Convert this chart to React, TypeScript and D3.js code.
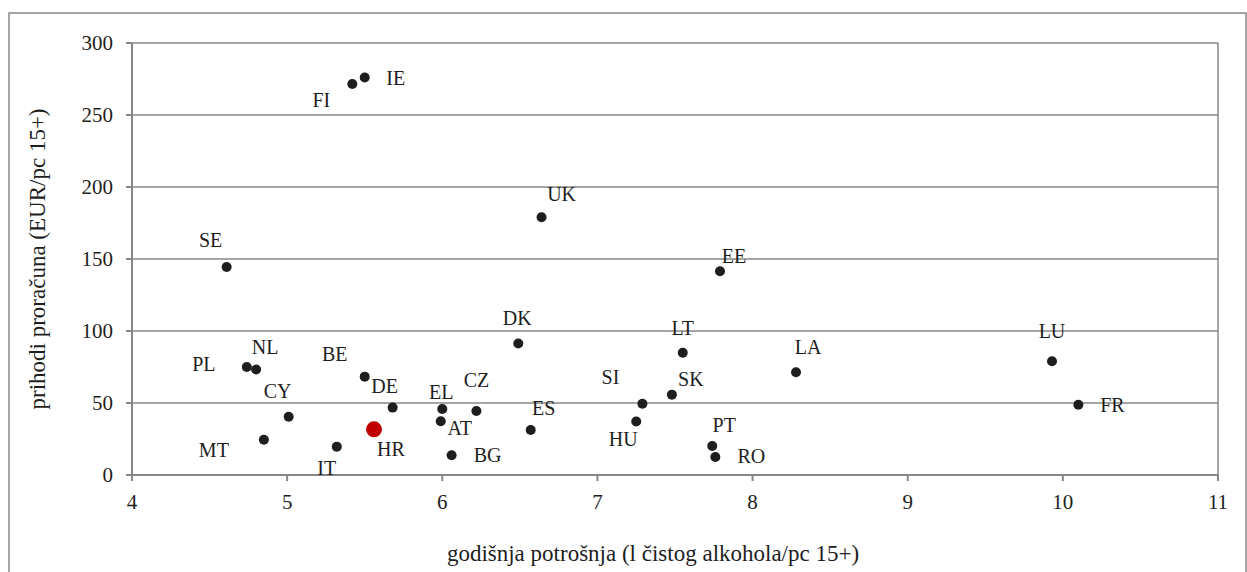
import React from 'react'
import * as d3 from 'd3'

// country codes, annual consumption (l pure alcohol / pc 15+), budget revenue (EUR / pc 15+)
const countries = ['FI', 'IE', 'UK', 'SE', 'EE', 'DK', 'LT', 'LU', 'LA', 'FR', 'PL', 'NL', 'BE', 'SK', 'SI', 'DE', 'EL', 'CZ', 'CY', 'AT', 'HU', 'HR', 'ES', 'MT', 'IT', 'PT', 'BG', 'RO']
const consumption = [5.42, 5.5, 6.64, 4.61, 7.79, 6.49, 7.55, 9.93, 8.28, 10.1, 4.74, 4.8, 5.5, 7.48, 7.29, 5.68, 6.0, 6.22, 5.01, 5.99, 7.25, 5.56, 6.57, 4.85, 5.32, 7.74, 6.06, 7.76]
const revenue = [271.5, 276, 179, 144.5, 141.5, 91.3, 84.9, 79, 71.3, 48.8, 75, 73.3, 68.3, 55.8, 49.5, 46.8, 45.8, 44.4, 40.5, 37.3, 37.2, 31.7, 31.2, 24.5, 19.7, 20.1, 13.7, 12.5]
const highlighted = 'HR'

const xTicks = [4, 5, 6, 7, 8, 9, 10, 11]
const yTicks = [0, 50, 100, 150, 200, 250, 300]

const xTitle = 'godišnja potrošnja (l čistog alkohola/pc 15+)'
const yTitle = 'prihodi proračuna (EUR/pc 15+)'

// label placement relative to the dot (pixels), as hand-placed in the original
const labelOffset: Record<string, [number, number]> = {
  FI: [-31, 16], IE: [31, 0], UK: [20, -23], SE: [-16, -27], EE: [14, -15],
  DK: [-1, -26], LT: [0, -25], LU: [0, -30], LA: [12, -25], FR: [34, 0],
  PL: [-43, -3], NL: [9, -22], BE: [-30, -23], SK: [19, -16], SI: [-32, -27],
  DE: [-8, -22], EL: [-1, -17], CZ: [0, -31], CY: [-11, -26], AT: [19, 7],
  HU: [-13, 18], HR: [17, 20], ES: [13, -22], MT: [-50, 10], IT: [-10, 21],
  PT: [12, -21], BG: [36, 0], RO: [36, -1]
}

const W = 1247
const H = 572
const margin = { top: 43, right: 29, bottom: 97, left: 132 }
const font = "'Liberation Serif', 'DejaVu Serif', serif"
const grey = '#878787'
const ink = '#1e1e1e'

export default function App() {
  const x = d3.scaleLinear().domain([4, 11]).range([margin.left, W - margin.right])
  const y = d3.scaleLinear().domain([0, 300]).range([H - margin.bottom, margin.top])

  const points = countries.map((code, i) => ({ code, cx: x(consumption[i]), cy: y(revenue[i]) }))
  const bottom = y(0)
  const labelStyle = { fontFamily: font, fontSize: '20px' }
  const tickStyle = { fontFamily: font, fontSize: '21px' }
  const titleStyle = { fontFamily: font, fontSize: '23px' }

  return (
    <svg width={W} height={H} style={{ position: 'absolute', left: 0, top: 0, background: '#fff' }}>
      <rect x={9} y={13} width={1237} height={600} fill="none" stroke={grey} strokeWidth={1.5} />

      {/* gridlines */}
      {yTicks.filter(t => t > 0).map(t => (
        <line key={'g' + t} x1={x(4)} x2={x(11)} y1={y(t)} y2={y(t)} stroke={grey} strokeWidth={1.5} />
      ))}
      <line x1={x(11)} x2={x(11)} y1={y(300)} y2={bottom} stroke={grey} strokeWidth={1.5} />

      {/* y axis */}
      <line x1={x(4)} x2={x(4)} y1={y(300)} y2={bottom + 6} stroke={grey} strokeWidth={2} />
      {yTicks.map(t => (
        <g key={'y' + t}>
          <line x1={x(4) - 6} x2={x(4)} y1={y(t)} y2={y(t)} stroke={grey} strokeWidth={2} />
          <text x={113} y={y(t)} dy="0.35em" textAnchor="end" style={tickStyle} fill={ink}>{t}</text>
        </g>
      ))}

      {/* x axis */}
      <line x1={x(4) - 6} x2={x(11)} y1={bottom} y2={bottom} stroke={grey} strokeWidth={2} />
      {xTicks.map(t => (
        <g key={'x' + t}>
          <line x1={x(t)} x2={x(t)} y1={bottom} y2={bottom + 6} stroke={grey} strokeWidth={2} />
          <text x={x(t)} y={509} textAnchor="middle" style={tickStyle} fill={ink}>{t}</text>
        </g>
      ))}

      <text x={653} y={561} textAnchor="middle" style={titleStyle} fill={ink}>{xTitle}</text>
      <text transform={`translate(45, ${(y(0) + y(300)) / 2}) rotate(-90)`} textAnchor="middle" style={titleStyle} fill={ink}>{yTitle}</text>

      {/* points */}
      {points.map(p => (
        <circle key={'c' + p.code} cx={p.cx} cy={p.cy}
          r={p.code === highlighted ? 8 : 5}
          fill={p.code === highlighted ? '#c00000' : ink} />
      ))}
      {points.map(p => {
        const [dx, dy] = labelOffset[p.code] || [0, -20]
        return (
          <text key={'l' + p.code} x={p.cx + dx} y={p.cy + dy} dy="0.35em" textAnchor="middle" style={labelStyle} fill={ink}>{p.code}</text>
        )
      })}
    </svg>
  )
}
